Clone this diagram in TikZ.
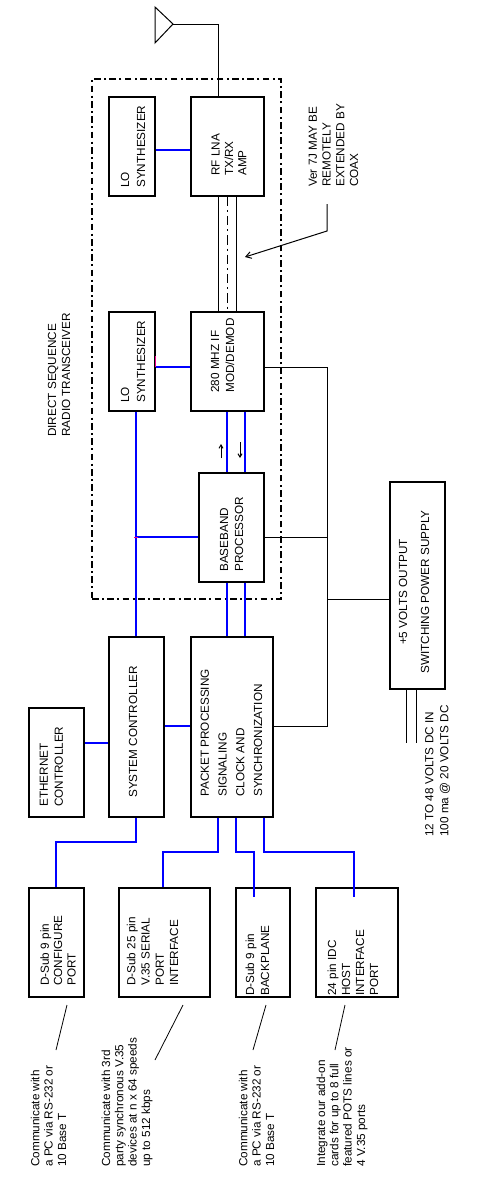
\documentclass[tikz,border=0pt]{standalone}
\usepackage{fontspec}
\setmainfont{Liberation Sans}
\usetikzlibrary{arrows.meta,fit}
\begin{document}
\begin{tikzpicture}[x=0.75pt,y=-0.75pt,
  box/.style={draw,line width=0.9pt,inner sep=0pt},
  lbl/.style={rotate=90,inner sep=0pt,align=left,anchor=west,font=\fontsize{8.8}{#1}\selectfont},
  lbl/.default=10.5,
  wire/.style={line width=0.75pt},
  bwire/.style={draw=blue,line width=0.85pt},
  tick/.style={draw=magenta,line width=0.75pt},
  frame/.style={line width=0.9pt,dash pattern=on 5pt off 2.5pt on 1.5pt off 2.5pt},
  coaxc/.style={line width=0.75pt,dash pattern=on 7pt off 3pt on 1.5pt off 3pt},
  lead/.style={line width=0.6pt}
]
\useasboundingbox[fill=white] (0,0) rectangle (483,1183);

% transceiver frame
\node[frame,draw,inner sep=0pt,fit={(92,79) (281,599)}] (dsr) {};

% boxes
\node[box,fit={(109,97) (155,196)}] (lo1) {};
\node[box,fit={(191,97) (264,196)}] (rf) {};
\node[box,fit={(109,312) (155,411)}] (lo2) {};
\node[box,fit={(191,312) (264,411)}] (ifb) {};
\node[box,fit={(199,473) (264,582)}] (bb) {};
\node[box,fit={(390,482) (445,689)}] (ps) {};
\node[box,fit={(109,637) (164,817)}] (sysc) {};
\node[box,fit={(29,708) (84,817)}] (eth) {};
\node[box,fit={(191,637) (273,817)}] (pkt) {};
\node[box,fit={(29,888) (84,997)}] (cfg) {};
\node[box,fit={(119,888) (210,997)}] (v35) {};
\node[box,fit={(236,888) (290,997)}] (bkp) {};
\node[box,fit={(316,888) (398,997)}] (idc) {};

% box texts
\node[lbl=12] at (133,188) {LO\\SYNTHESIZER};
\node[lbl=10] at (229,176) {RF LNA\\TX/RX\\AMP};
\node[lbl=12] at (133,403) {LO\\SYNTHESIZER};
\node[lbl=11.25] at (222.5,393) {280 MHZ IF\\MOD/DEMOD};
\node[lbl=11.25] at (231.5,572) {BASEBAND\\PROCESSOR};
\node[lbl] at (133,798) {SYSTEM CONTROLLER};
\node[lbl=11.25] at (51.5,807) {ETHERNET\\CONTROLLER};
\node[lbl=13.3] at (231.5,797) {PACKET PROCESSING\\SIGNALING\\CLOCK AND\\SYNCHRONIZATION};
\node[lbl=16.5,anchor=center,align=center] at (414,592) {+5 VOLTS OUTPUT\\SWITCHING POWER SUPPLY};
\node[lbl=10] at (58,986) {D-Sub 9 pin\\CONFIGURE\\PORT};
\node[lbl=10.7] at (152.5,986) {D-Sub 25 pin\\V.35 SERIAL\\PORT\\INTERFACE};
\node[lbl=11.25] at (257.5,996) {D-Sub 9 pin\\BACKPLANE};
\node[lbl=10.5] at (353,996) {24 pin IDC\\HOST\\INTERFACE\\PORT};

% free texts
\node[lbl=10.5] (dstxt) at (59,437) {DIRECT SEQUENCE\\RADIO TRANSCEIVER};
\node[lbl=10.3] (vertxt) at (333.5,187) {Ver 7J MAY BE\\REMOTELY\\EXTENDED BY\\COAX};
\node[lbl=11.25] (pwrin) at (437.5,837) {12 TO 48 VOLTS DC IN\\100 ma @ 20 VOLTS DC};
\node[lbl=10] (n1) at (48.5,1167) {Communicate with\\a PC via RS-232 or\\10 Base T};
\node[lbl=10] (n2) at (127,1167) {Communicate with 3rd\\party synchronous V.35\\devices at n x 64 speeds\\up to 512 kbps};
\node[lbl=10] (n3) at (256.5,1167) {Communicate with\\a PC via RS-232 or\\10 Base T};
\node[lbl=10] (n4) at (342,1167) {Integrate our add-on\\cards for up to 8 full\\featured POTS lines or\\4 V.35 ports};

% antenna
\coordinate (ant) at (173,24);
\draw[wire] (155,7) -- (155,43) -- (ant) -- cycle;
\draw[wire] (ant) -| (218,0 |- rf.north);

% coax
\draw[wire] (218,0 |- rf.south) -- (218,0 |- ifb.north);
\draw[wire] (236,0 |- rf.south) -- (236,0 |- ifb.north);
\draw[coaxc] (227,0 |- rf.south) -- (227,0 |- ifb.north);

% blue signal connectors
\draw[bwire] (lo1.east |- 0,150) -- (rf.west |- 0,150);
\draw[bwire] (lo2.east |- 0,367) -- (ifb.west |- 0,367);
\draw[bwire] (136,0 |- lo2.south) -- (136,0 |- sysc.north);
\draw[bwire] (136,537) -- (bb.west |- 0,537);
\draw[bwire] (227,0 |- ifb.south) -- (227,0 |- bb.north);
\draw[bwire] (245,0 |- ifb.south) -- (245,0 |- bb.north);
\draw[bwire] (227,0 |- bb.south) -- (227,0 |- pkt.north);
\draw[bwire] (245,0 |- bb.south) -- (245,0 |- pkt.north);
\draw[bwire] (eth.east |- 0,743) -- (sysc.west |- 0,743);
\draw[bwire] (sysc.east |- 0,726) -- (pkt.west |- 0,726);
\draw[bwire] (136,0 |- sysc.south) -- (136,842) -| (56,0 |- cfg.north);
\draw[bwire] (218,0 |- pkt.south) -- (218,852) -| (163,0 |- v35.north);
\draw[bwire] (236,0 |- pkt.south) -- (236,852) -| (254,897);
\draw[bwire] (264,0 |- pkt.south) -- (264,852) -| (354,897);

% magenta marks
\draw[tick] (155,356) -- (155,367);
\draw[tick] (134,537) -- (138,537);

% direction arrows
\draw[wire,-{Straight Barb[length=2.5pt,width=3pt]}] (221,458) -- (221,444);
\draw[wire,-{Straight Barb[length=2.5pt,width=3pt]}] (240,442) -- (240,458);

% power distribution
\draw[wire] (ifb.east |- 0,367) -- (327,367) -- (327,726) -- (pkt.east |- 0,726);
\draw[wire] (bb.east |- 0,537) -- (327,537);
\draw[wire] (327,599) -- (ps.west |- 0,599);
\draw[wire] (406,0 |- ps.south) -- (406,743);
\draw[wire] (416,0 |- ps.south) -- (416,743);

% coax note arrow
\draw[wire,-{Straight Barb[length=4pt,width=5pt]}] (327,204) -- (327,231) -- (245,257);

% leader lines
\draw[lead] (67,1005) -- (56,1050);
\draw[lead] (183,1005) -- (155,1060);
\draw[lead] (266,1005) -- (253,1050);
\draw[lead] (345,1005) -- (335,1050);
\end{tikzpicture}
\end{document}
